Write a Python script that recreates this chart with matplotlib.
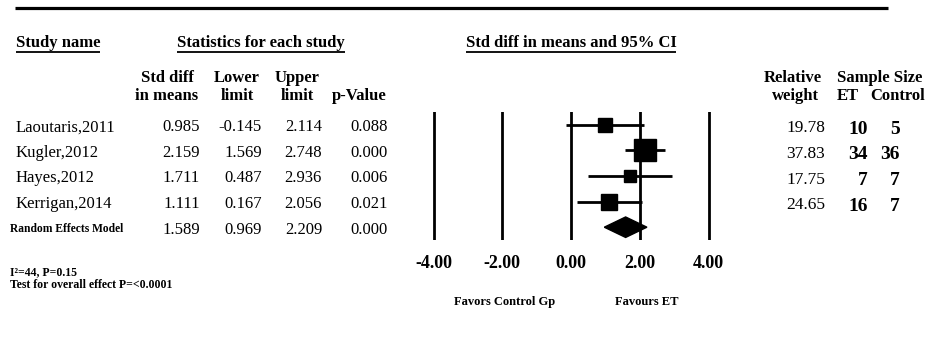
import numpy as np
import matplotlib
matplotlib.use("Agg")
import matplotlib.pyplot as plt

studies = ["Laoutaris,2011", "Kugler,2012", "Hayes,2012", "Kerrigan,2014"]
pooled_name = "Random Effects Model"
smd = [0.985, 2.159, 1.711, 1.111]
lower = [-0.145, 1.569, 0.487, 0.167]
upper = [2.114, 2.748, 2.936, 2.056]
pvals = [0.088, 0.000, 0.006, 0.021]
pooled_est, pooled_lo, pooled_hi, pooled_p = 1.589, 0.969, 2.209, 0.000
weights = [19.78, 37.83, 17.75, 24.65]
n_et = [10, 34, 7, 16]
n_ctl = [5, 36, 7, 7]
xticks = [-4, -2, 0, 2, 4]
het_text = "I\u00b2=44, P=0.15"
overall_text = "Test for overall effect P=<0.0001"

plt.rcParams["font.family"] = ["Liberation Serif", "DejaVu Serif"]
W, H = 938, 339
fig = plt.figure(figsize=(W / 100, H / 100), dpi=100)

# pixel overlay for the table text
ax0 = fig.add_axes([0, 0, 1, 1])
ax0.set_xlim(0, W); ax0.set_ylim(H, 0); ax0.axis("off")

# forest panel: 0 at x=571px, 34.375 px per unit, rows span y 112..240 px
x_zero, ppu, xr = 571, 34.375, 4.3
top, bot = 112, 240
axf = fig.add_axes([(x_zero - xr * ppu) / W, (H - bot) / H, 2 * xr * ppu / W, (bot - top) / H])
axf.set_xlim(-xr, xr); axf.set_ylim(4.5, -0.5)
axf.set_frame_on(False); axf.set_yticks([])
axf.set_xticks(xticks)
axf.set_xticklabels([f"{t:.2f}" for t in xticks], fontweight="bold", fontsize=13)
axf.tick_params(axis="x", length=0, pad=11)

rows = np.arange(len(studies))
for t in xticks:
    axf.axvline(t, color="black", lw=2, zorder=1)
axf.hlines(rows, lower, upper, color="black", lw=2, zorder=2)
for i in rows:
    side = 14 * (weights[i] / weights[0]) ** 0.72
    axf.plot(smd[i], i, marker="s", ms=side * 0.72, color="black", ls="none", zorder=3)
pr = len(studies)
axf.fill([pooled_lo, pooled_est, pooled_hi, pooled_est], [pr, pr - 0.4, pr, pr + 0.4],
         color="black", zorder=3)

# text baselines of the table rows
row_px = top + (np.arange(len(studies) + 1) + 0.5) * (bot - top) / 5 + 6.5

# top rule
ax0.plot([15, 888], [8, 8], color="black", lw=2.3, solid_capstyle="butt")

# section headers (underlined)
hk = dict(fontsize=12, fontweight="bold", va="baseline")
hdrs = [ax0.text(16, 47, "Study name", ha="left", **hk),
        ax0.text(261, 47, "Statistics for each study", ha="center", **hk),
        ax0.text(571, 47, "Std diff in means and 95% CI", ha="center", **hk)]

colx = [167, 237, 297, 359]
l1 = ["Std diff", "Lower", "Upper", ""]
l2 = ["in means", "limit", "limit", "p-Value"]
for x, a, b in zip(colx, l1, l2):
    ax0.text(x, 82, a, ha="center", **hk)
    ax0.text(x, 100, b, ha="center", **hk)
ax0.text(793, 82, "Relative", ha="center", **hk)
ax0.text(795, 100, "weight", ha="center", **hk)
ax0.text(880, 82, "Sample Size", ha="center", **hk)
ax0.text(848, 100, "ET", ha="center", **hk)
ax0.text(898, 100, "Control", ha="center", **hk)

num_right = [200, 262, 322, 388]
for i, name in enumerate(studies):
    y = row_px[i]
    ax0.text(16, y, name, fontsize=12, ha="left", va="baseline")
    for x, v in zip(num_right, [smd[i], lower[i], upper[i], pvals[i]]):
        ax0.text(x, y, f"{v:.3f}", fontsize=12, ha="right", va="baseline")
    ax0.text(825, y + 1, f"{weights[i]:.2f}", fontsize=12.5, ha="right", va="baseline")
    ax0.text(868, y + 2.5, str(n_et[i]), fontsize=14, fontweight="bold", ha="right", va="baseline")
    ax0.text(900, y + 2.5, str(n_ctl[i]), fontsize=14, fontweight="bold", ha="right", va="baseline")
y = row_px[-1]
ax0.text(10, y - 2, pooled_name, fontsize=8.3, fontweight="bold", ha="left", va="baseline")
for x, v in zip(num_right, [pooled_est, pooled_lo, pooled_hi, pooled_p]):
    ax0.text(x, y, f"{v:.3f}", fontsize=12, ha="right", va="baseline")

ax0.text(10, 275, het_text, fontsize=8.5, fontweight="bold", ha="left", va="baseline")
ax0.text(10, 288, overall_text, fontsize=8.5, fontweight="bold", ha="left", va="baseline")
ax0.text(505, 305, "Favors Control Gp", fontsize=9, fontweight="bold", ha="center", va="baseline")
ax0.text(647, 305, "Favours ET", fontsize=9, fontweight="bold", ha="center", va="baseline")

# underline the section headers using their rendered extents
fig.canvas.draw()
rend = fig.canvas.get_renderer()
inv = ax0.transData.inverted()
for t in hdrs:
    bb = t.get_window_extent(rend)
    (xa, _), (xb, _) = inv.transform([[bb.x0, 0], [bb.x1, 0]])
    ax0.plot([xa, xb], [52, 52], color="black", lw=1.3, solid_capstyle="butt")

fig.savefig("out.png", dpi=100)
plt.close(fig)
